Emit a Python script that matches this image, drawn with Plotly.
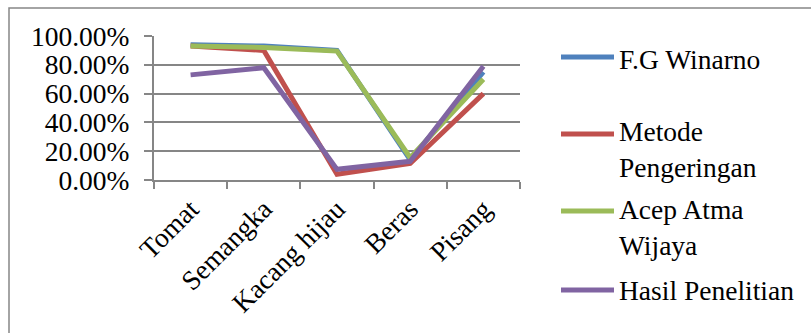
import plotly.graph_objects as go

categories = ["Tomat", "Semangka", "Kacang hijau", "Beras", "Pisang"]
series_names = ["F.G Winarno", "Metode<br>Pengeringan", "Acep Atma<br>Wijaya", "Hasil Penelitian"]
fg_winarno = [0.94, 0.93, 0.90, 0.14, 0.75]
metode_pengeringan = [0.93, 0.90, 0.04, 0.115, 0.60]
acep_atma_wijaya = [0.93, 0.92, 0.895, 0.155, 0.70]
hasil_penelitian = [0.73, 0.78, 0.074, 0.13, 0.79]
series_values = [fg_winarno, metode_pengeringan, acep_atma_wijaya, hasil_penelitian]
colors = ["#4F81BD", "#C0504D", "#9BBB59", "#8064A2"]
y_ticks = [0, 0.2, 0.4, 0.6, 0.8, 1.0]

W, H = 811, 333
L, R, T, B = 154, 520, 36, 180
pw, ph = R - L, B - T
FONT = "Liberation Serif"
FS = 27.5
GRID = "#868686"

def px(x):
    return (x - L) / pw

def py(y):
    return (B - y) / ph

fig = go.Figure()
for name, vals, col in zip(series_names, series_values, colors):
    fig.add_trace(go.Scatter(x=categories, y=vals, mode="lines", name=name.replace("<br>", " "),
                             line=dict(color=col, width=5), showlegend=False))

shapes = []
annotations = []
# outer chart border (extends past the visible window on right/bottom)
shapes.append(dict(type="rect", xref="paper", yref="paper", x0=px(9), x1=px(816), y0=py(8), y1=py(345),
                   line=dict(color=GRID, width=1.5), fillcolor="rgba(0,0,0,0)", layer="below"))

legend_line_y = [57, 134, 211, 290]
legend_text_y = [59, 149, 227, 290]
for name, col, ly, ty in zip(series_names, colors, legend_line_y, legend_text_y):
    shapes.append(dict(type="line", xref="paper", yref="paper", x0=px(561), x1=px(614), y0=py(ly), y1=py(ly),
                       line=dict(color=col, width=5)))
    annotations.append(dict(text=name, xref="paper", yref="paper", x=px(617), y=py(ty),
                            xanchor="left", yanchor="middle", align="left", showarrow=False,
                            font=dict(family=FONT, size=FS, color="black")))

fig.update_layout(
    width=W, height=H,
    margin=dict(l=L, r=W - R, t=T, b=H - B, pad=0),
    paper_bgcolor="white", plot_bgcolor="white",
    font=dict(family=FONT, size=FS, color="black"),
    shapes=shapes, annotations=annotations,
    xaxis=dict(type="category", range=[-0.5, 4.5], tickson="boundaries", ticks="outside", ticklen=7,
               tickcolor=GRID, tickwidth=2, showline=True, linecolor=GRID, linewidth=2,
               showgrid=False, tickangle=-45, tickfont=dict(family=FONT, size=FS)),
    yaxis=dict(range=[0, 1.0], tickvals=y_ticks, tickformat=".2%", ticks="outside", ticklen=8,
               tickcolor=GRID, tickwidth=2, showline=True, linecolor=GRID, linewidth=2,
               showgrid=True, gridcolor=GRID, gridwidth=2, zeroline=False, ticklabelstandoff=9,
               tickfont=dict(family=FONT, size=FS)),
    showlegend=False,
)
fig.write_html("out.html")
